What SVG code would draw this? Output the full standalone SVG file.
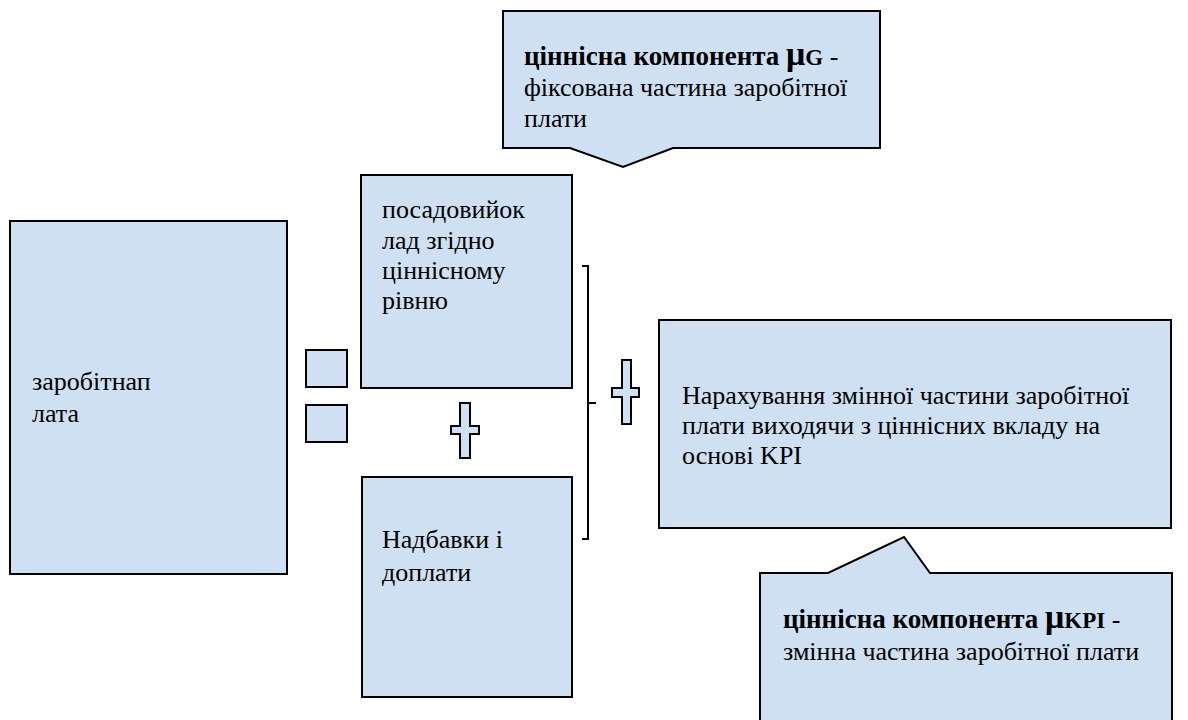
<svg xmlns="http://www.w3.org/2000/svg" width="1188" height="720" viewBox="0 0 1188 720">
<style>
.box{fill:#cfe0f3;stroke:#000;stroke-width:2}
.t{font-family:"Liberation Serif","Times New Roman",serif;font-size:26px;fill:#000}
.b{font-weight:bold;font-size:27px}
.mu{font-weight:bold;font-size:34px}
.sub{font-weight:bold;font-size:23px}
.line{fill:none;stroke:#000;stroke-width:2}
</style>
<rect width="1188" height="720" fill="#fff"/>
<g id="callout-top">
<polygon class="box" points="503,11 880,11 880,148 673,148 623,167 570,148 503,148"/>
<text class="t" x="524" y="65"><tspan class="b">ціннісна компонента </tspan><tspan class="mu">μ</tspan><tspan class="sub">G</tspan><tspan> -</tspan></text>
<text class="t" x="524" y="96">фіксована частина заробітної</text>
<text class="t" x="524" y="127">плати</text>
</g>
<g id="salary">
<rect class="box" x="10" y="221" width="277" height="353"/>
<text class="t" x="32" y="390">заробітнап</text>
<text class="t" x="32" y="422">лата</text>
</g>
<g id="equals">
<rect class="box" x="306" y="350" width="41" height="37"/>
<rect class="box" x="306" y="405" width="41" height="37"/>
</g>
<g id="base-salary">
<rect class="box" x="361" y="175" width="211" height="213"/>
<text class="t" x="382" y="218">посадовийок</text>
<text class="t" x="382" y="249">лад згідно</text>
<text class="t" x="382" y="279">ціннісному</text>
<text class="t" x="382" y="309">рівню</text>
</g>
<g id="plus-small">
<polygon class="box" points="460,403 470,403 470,426 479,426 479,434 470,434 470,458 460,458 460,434 451,434 451,426 460,426"/>
</g>
<g id="bonuses">
<rect class="box" x="362" y="477" width="210" height="220"/>
<text class="t" x="382" y="548">Надбавки і</text>
<text class="t" x="382" y="581">доплати</text>
</g>
<g id="connectors">
<path class="line" d="M582,266 L588,266 L588,539 L582,539 M588,403 L596,403"/>
</g>
<g id="plus-big">
<polygon class="box" points="622,360 631,360 631,388 639,388 639,397 631,397 631,424 622,424 622,397 612,397 612,388 622,388"/>
</g>
<g id="kpi-box">
<rect class="box" x="659" y="320" width="512" height="208"/>
<text class="t" x="682" y="404">Нарахування змінної частини заробітної</text>
<text class="t" x="682" y="434">плати виходячи з ціннісних вкладу на</text>
<text class="t" x="682" y="464">основі KPI</text>
</g>
<g id="callout-bottom">
<polygon class="box" points="760,573 828,573 904,537 930,573 1172,573 1172,730 760,730"/>
<text class="t" x="783" y="628"><tspan class="b">ціннісна компонента </tspan><tspan class="mu">μ</tspan><tspan class="sub">KPI</tspan><tspan> -</tspan></text>
<text class="t" x="783" y="660">змінна частина заробітної плати</text>
</g>
</svg>
